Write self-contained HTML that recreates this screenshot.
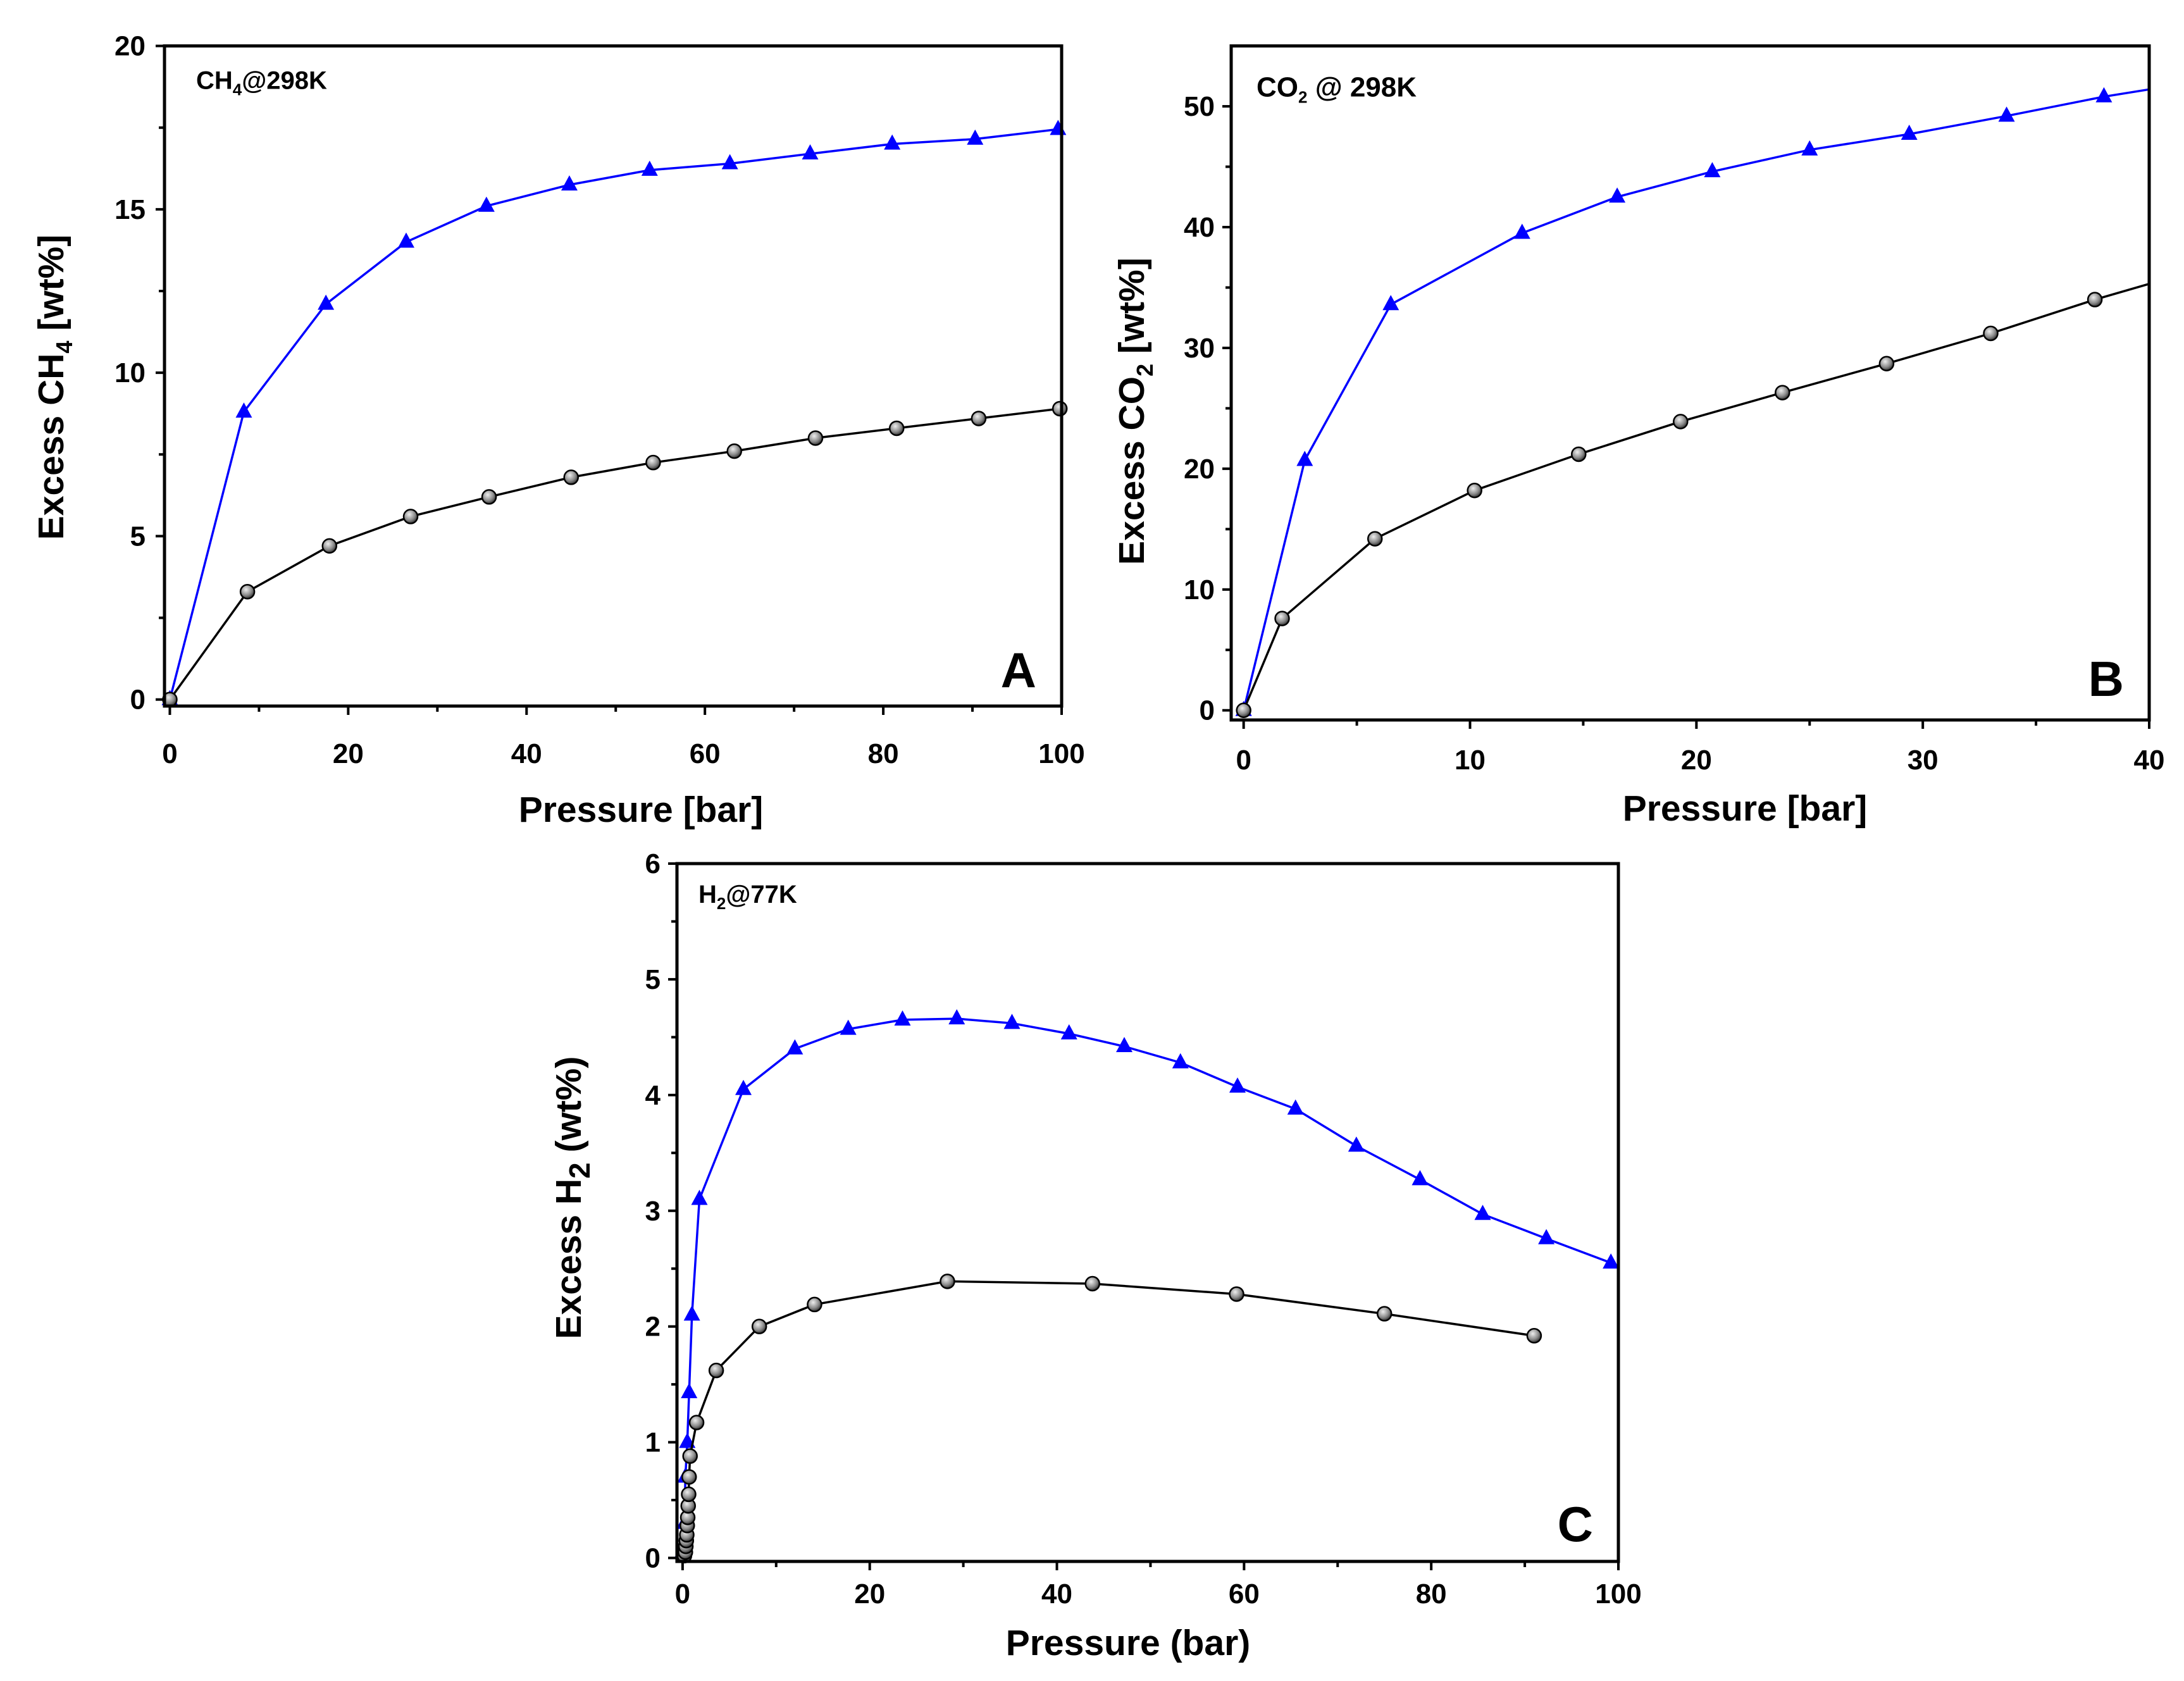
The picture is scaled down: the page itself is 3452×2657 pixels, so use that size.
<!DOCTYPE html>
<html><head><meta charset="utf-8"><style>
html,body{margin:0;padding:0;background:#fff}
svg{display:block;font-family:"Liberation Sans",Arial,sans-serif;font-weight:bold}
</style></head><body>
<svg id="fig" width="3452" height="2657" viewBox="0 0 3452 2657" xmlns="http://www.w3.org/2000/svg">
<defs><radialGradient id="ball" cx="0.4" cy="0.35" r="0.7"><stop offset="0" stop-color="#eee"/><stop offset="0.6" stop-color="#888"/><stop offset="1" stop-color="#222"/></radialGradient></defs>
</svg>
<script>
// Panel A data (CH4 @ 298K)
const aBlueX=[0,8.3,17.5,26.5,35.5,44.8,53.8,62.8,71.8,81,90.3,99.6];
const aBlueY=[0,8.8,12.1,14.0,15.1,15.75,16.2,16.4,16.7,17.0,17.15,17.45];
const aBlackX=[0,8.7,17.9,27,35.8,45,54.2,63.3,72.4,81.5,90.7,99.8];
const aBlackY=[0,3.3,4.7,5.6,6.2,6.8,7.25,7.6,8.0,8.3,8.6,8.9];
const aXTicks=[0,20,40,60,80,100];
const aYTicks=[0,5,10,15,20];
// Panel B data (CO2 @ 298K)
const bBlueX=[0,2.7,6.5,12.3,16.5,20.7,25,29.4,33.7,38,40];
const bBlueY=[0,20.7,33.6,39.5,42.5,44.6,46.4,47.7,49.2,50.8,51.4];
const bBlackX=[0,1.7,5.8,10.2,14.8,19.3,23.8,28.4,33,37.6,40];
const bBlackY=[0,7.6,14.2,18.2,21.2,23.9,26.3,28.7,31.2,34.0,35.3];
const bXTicks=[0,10,20,30,40];
const bYTicks=[0,10,20,30,40,50];
// Panel C data (H2 @ 77K)
const cBlueX=[0,0.2,0.3,0.5,0.7,1.0,1.8,6.5,12,17.7,23.5,29.3,35.2,41.3,47.2,53.2,59.3,65.5,72,78.8,85.5,92.3,99.2];
const cBlueY=[0.05,0.3,0.7,1.0,1.43,2.1,3.1,4.05,4.4,4.57,4.65,4.66,4.62,4.53,4.42,4.28,4.07,3.88,3.56,3.27,2.97,2.76,2.55];
const cBlackX=[0.2,0.3,0.35,0.4,0.45,0.5,0.55,0.6,0.65,0.7,0.8,1.5,3.6,8.2,14.1,28.3,43.8,59.2,75,91];
const cBlackY=[0.02,0.05,0.1,0.15,0.2,0.28,0.35,0.45,0.55,0.7,0.88,1.17,1.62,2.0,2.19,2.39,2.37,2.28,2.11,1.92];
const cXTicks=[0,20,40,60,80,100];
const cYTicks=[0,1,2,3,4,5,6];

const NS="http://www.w3.org/2000/svg";
const svg=document.getElementById('fig');
function mk(tag,attrs,parent){const e=document.createElementNS(NS,tag);for(const k in attrs)e.setAttribute(k,attrs[k]);(parent||svg).appendChild(e);return e;}

function panel(p){
  const g=mk('g',{});
  
  
  const sx=v=>p.L+(v-p.xmin)/(p.xmax-p.xmin)*(p.R-p.L);
  const sy=v=>p.B-(v-p.ymin)/(p.ymax-p.ymin)*(p.B-p.T);
  const clip='clip-'+p.name;
  const cp=mk('clipPath',{id:clip},g);mk('rect',{x:p.L,y:p.T-20,width:p.R-p.L+3,height:p.B-p.T+20},cp);
  // series
  p.series.forEach(s=>{
    const pts=s.x.map((v,i)=>sx(v).toFixed(1)+','+sy(s.y[i]).toFixed(1)).join(' ');
    const line=mk('polyline',{points:pts,fill:'none',stroke:s.color,'stroke-width':3.5,'clip-path':'url(#'+clip+')'},g);
    
    
    s.x.forEach((v,i)=>{
      if(v>=p.xmax)return;
      const X=sx(v),Y=sy(s.y[i]);
      let m;
      if(s.marker==='tri'){
        m=mk('polygon',{points:`${X},${Y-15} ${X-13},${Y+9} ${X+13},${Y+9}`,fill:'#0000ff'},g);
      }else{
        m=mk('circle',{cx:X,cy:Y,r:11,fill:'url(#ball)',stroke:'#000','stroke-width':2.5},g);
      }
      
      
    });
  });
  // frame
  const fr=mk('rect',{x:p.L,y:p.T,width:p.R-p.L,height:p.B-p.T,fill:'none',stroke:'#000','stroke-width':5},g);
  
  
  // x ticks
  p.xt.forEach((v,i)=>{
    const X=sx(v);
    mk('line',{x1:X,y1:p.B,x2:X,y2:p.B+14,stroke:'#000','stroke-width':4},g);
    if(i<p.xt.length-1){const Xm=sx(v+(p.xt[1]-p.xt[0])/2);mk('line',{x1:Xm,y1:p.B,x2:Xm,y2:p.B+9,stroke:'#000','stroke-width':4},g);}
    const t=mk('text',{x:X,y:p.B+p.xlabOff,'font-size':44,'text-anchor':'middle'},g);t.textContent=v;
    
    
  });
  p.yt.forEach((v,i)=>{
    const Y=sy(v);
    mk('line',{x1:p.L,y1:Y,x2:p.L-14,y2:Y,stroke:'#000','stroke-width':4},g);
    if(i<p.yt.length-1){const Ym=sy(v+(p.yt[1]-p.yt[0])/2);mk('line',{x1:p.L,y1:Ym,x2:p.L-9,y2:Ym,stroke:'#000','stroke-width':4},g);}
    const t=mk('text',{x:p.L-p.ylabOff,y:Y+15,'font-size':44,'text-anchor':'end'},g);t.textContent=v;
    
    
  });
  // x title
  const xt=mk('text',{x:p.xtx,y:p.xty,'font-size':57,'text-anchor':'middle'},g);xt.textContent=p.xtitle;
  
  
  // y title
  const yt=mk('text',{x:0,y:0,'font-size':57,'text-anchor':'middle',transform:`translate(${p.ytx},${p.yty}) rotate(-90)`},g);
  yt.innerHTML=p.ytitle;
  
  
  // annotation
  const an=mk('text',{x:p.L+p.annX,y:p.T+p.annY,'font-size':p.annSize},g);an.innerHTML=p.ann;
  
  
  const lt=mk('text',{x:p.R-40,y:p.B-p.letY,'font-size':78,'text-anchor':'end'},g);lt.textContent=p.letter;
  
  
}

panel({name:'panel-a',L:260,R:1678,T:72.6,B:1116,xmin:-0.6,xmax:100,ymin:-0.2,ymax:20,
  xt:aXTicks,yt:aYTicks,xlabOff:90,ylabOff:30,
  series:[{name:'a-blue',x:aBlueX,y:aBlueY,color:'#0000ff',marker:'tri'},{name:'a-black',x:aBlackX,y:aBlackY,color:'#000',marker:'ball'}],
  xtitle:'Pressure [bar]',xtx:1013,xty:1299,
  ytitle:'Excess CH<tspan dy="14" font-size="36">4</tspan><tspan dy="-14"> [wt%]</tspan>',ytx:100,yty:612,
  ann:'CH<tspan dy="10" font-size="26">4</tspan><tspan dy="-10">@298K</tspan>',annX:50,annY:68,annSize:40,letter:'A',letY:30});
panel({name:'panel-b',L:1946,R:3397,T:72.6,B:1138,xmin:-0.55,xmax:40,ymin:-0.8,ymax:55,
  xt:bXTicks,yt:bYTicks,xlabOff:78,ylabOff:26,
  series:[{name:'b-blue',x:bBlueX,y:bBlueY,color:'#0000ff',marker:'tri'},{name:'b-black',x:bBlackX,y:bBlackY,color:'#000',marker:'ball'}],
  xtitle:'Pressure [bar]',xtx:2758,xty:1297,
  ytitle:'Excess CO<tspan dy="14" font-size="36">2</tspan><tspan dy="-14"> [wt%]</tspan>',ytx:1808,yty:650,
  ann:'CO<tspan dy="10" font-size="26">2</tspan><tspan dy="-10"> @ 298K</tspan>',annX:40,annY:80,annSize:44,letter:'B',letY:38});
panel({name:'panel-c',L:1070,R:2558,T:1365,B:2468,xmin:-0.6,xmax:100,ymin:-0.03,ymax:6,
  xt:cXTicks,yt:cYTicks,xlabOff:66,ylabOff:26,
  series:[{name:'c-blue',x:cBlueX,y:cBlueY,color:'#0000ff',marker:'tri'},{name:'c-black',x:cBlackX,y:cBlackY,color:'#000',marker:'ball'}],
  xtitle:'Pressure (bar)',xtx:1783,xty:2616,
  ytitle:'Excess H<tspan dy="14" font-size="46">2</tspan><tspan dy="-14"> (wt%)</tspan>',ytx:918,yty:1893,
  ann:'H<tspan dy="10" font-size="26">2</tspan><tspan dy="-10">@77K</tspan>',annX:34,annY:62,annSize:40,letter:'C',letY:32});
</script>
</body></html>
